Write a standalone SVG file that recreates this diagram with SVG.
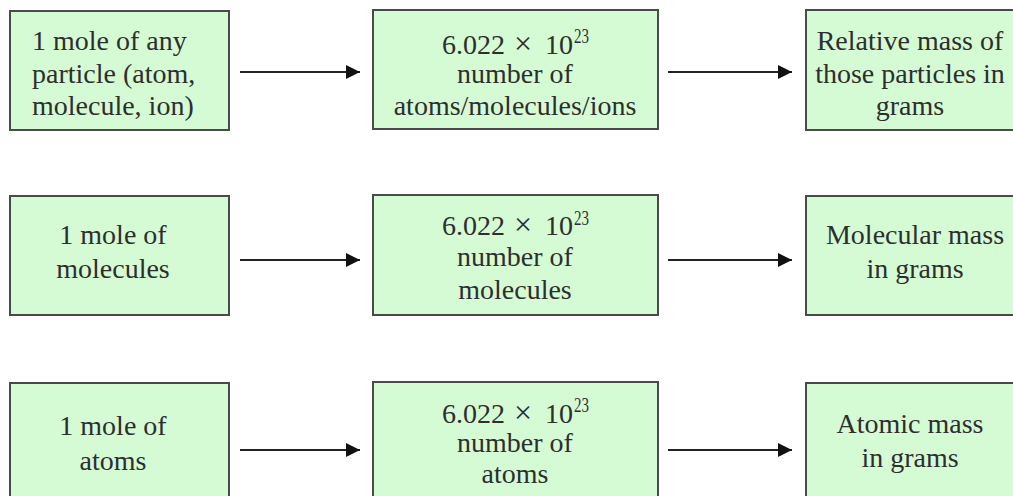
<svg xmlns="http://www.w3.org/2000/svg" width="1013" height="496" viewBox="0 0 1013 496">
<defs>
<style>
.box{fill:#d5fbd5;stroke:#4a4a4a;stroke-width:2}
.t{font-family:'Liberation Serif','Times New Roman',serif;font-size:28px;fill:#2e2e2e}
.c{text-anchor:middle}
.x{font-size:32px}
.sup{font-size:20px}
.conn{stroke:#222;stroke-width:2.2;fill:none;marker-end:url(#ah)}
</style>
<marker id="ah" viewBox="0 0 10 10" refX="10" refY="5" markerWidth="17" markerHeight="14" markerUnits="userSpaceOnUse" orient="auto">
<path d="M0,0 L10,5 L0,10 z" fill="#111"/>
</marker>
</defs>
<rect width="1013" height="496" fill="#fff"/>
<g id="connectors">
<line class="conn" x1="240" y1="72" x2="360" y2="72"/>
<line class="conn" x1="668" y1="72" x2="792" y2="72"/>
<line class="conn" x1="240" y1="260" x2="360" y2="260"/>
<line class="conn" x1="668" y1="260" x2="792" y2="260"/>
<line class="conn" x1="240" y1="450" x2="360" y2="450"/>
<line class="conn" x1="668" y1="450" x2="792" y2="450"/>
</g>
<g id="r1-mole">
<rect class="box" x="10" y="11" width="219" height="119"/>
<text class="t" x="32" y="50">1 mole of any</text>
<text class="t" x="32" y="83">particle (atom,</text>
<text class="t" x="32" y="115">molecule, ion)</text>
</g>
<g id="r1-number">
<rect class="box" x="373" y="10" width="285" height="119"/>
<text class="t" y="54"><tspan x="442">6.022</tspan><tspan class="x" x="514">×</tspan><tspan x="545">10</tspan><tspan class="sup" x="574" y="43" textLength="15" lengthAdjust="spacingAndGlyphs">23</tspan></text>
<text class="t c" x="515" y="83">number of</text>
<text class="t c" x="515" y="115">atoms/molecules/ions</text>
</g>
<g id="r1-mass">
<rect class="box" x="806" y="10" width="220" height="120"/>
<text class="t c" x="910" y="50">Relative mass of</text>
<text class="t c" x="910" y="83">those particles in</text>
<text class="t c" x="910" y="115">grams</text>
</g>
<g id="r2-mole">
<rect class="box" x="10" y="196" width="219" height="119"/>
<text class="t c" x="113" y="244">1 mole of</text>
<text class="t c" x="113" y="278">molecules</text>
</g>
<g id="r2-number">
<rect class="box" x="373" y="195" width="285" height="120"/>
<text class="t" y="235"><tspan x="442">6.022</tspan><tspan class="x" x="514">×</tspan><tspan x="545">10</tspan><tspan class="sup" x="574" y="225" textLength="15" lengthAdjust="spacingAndGlyphs">23</tspan></text>
<text class="t c" x="515" y="266">number of</text>
<text class="t c" x="515" y="299">molecules</text>
</g>
<g id="r2-mass">
<rect class="box" x="806" y="196" width="220" height="119"/>
<text class="t c" x="915" y="244">Molecular mass</text>
<text class="t c" x="915" y="278">in grams</text>
</g>
<g id="r3-mole">
<rect class="box" x="10" y="383" width="219" height="125"/>
<text class="t c" x="113" y="435">1 mole of</text>
<text class="t c" x="113" y="470">atoms</text>
</g>
<g id="r3-number">
<rect class="box" x="373" y="382" width="285" height="126"/>
<text class="t" y="423"><tspan x="442">6.022</tspan><tspan class="x" x="514">×</tspan><tspan x="545">10</tspan><tspan class="sup" x="574" y="412" textLength="15" lengthAdjust="spacingAndGlyphs">23</tspan></text>
<text class="t c" x="515" y="452">number of</text>
<text class="t c" x="515" y="483">atoms</text>
</g>
<g id="r3-mass">
<rect class="box" x="806" y="383" width="220" height="125"/>
<text class="t c" x="910" y="433">Atomic mass</text>
<text class="t c" x="910" y="467">in grams</text>
</g>
</svg>
